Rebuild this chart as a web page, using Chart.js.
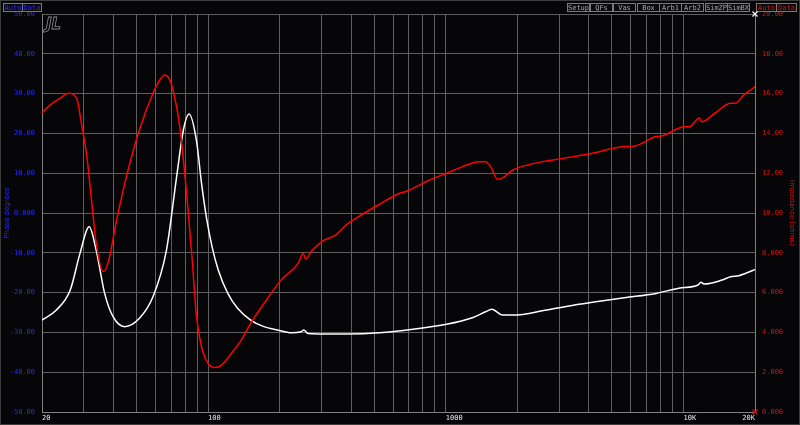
<!DOCTYPE html>
<html><head><meta charset="utf-8">
<script src="https://cdn.jsdelivr.net/npm/chart.js@4"></script>
<style>html,body{margin:0;padding:0;background:#060608;overflow:hidden}canvas{display:block}</style>
</head><body>
<canvas id="c" width="800" height="425"></canvas>
<script>
// ---- data ----
const phaseFreq = [20,21.6,23.8,25.8,28.0,29.3,30.9,32.3,33.8,36.2,37.9,41.2,45.3,51.4,58.6,62,65.6,68.5,71.2,76,81.9,85.5,89.4,93.8,99.9,106.6,113.7,125.2,138,151,172,203,239.6,251,257.7,271,304,345,381,420,526,636,679,855,1007,1171,1378,1471,1546,1650,1764,1916,2257,2661,3021,3633,4135,5641,6190,7669,8180,10090,10600,11660,11930,13530,15780,16550,17930,19840,20000];
const phaseDeg  = [25.2,27.1,28.8,30.1,28.8,22.5,14.1,3.3,-7.5,-14.7,-12.6,-1.8,9.1,20.9,30.1,33.0,34.7,33.8,30.9,21.7,2.4,-11.0,-26.1,-33.6,-37.8,-38.8,-38.2,-35.3,-31.9,-27.7,-22.7,-16.8,-12.6,-10.1,-11.6,-9.7,-7.0,-5.5,-3.0,-1.3,2.2,4.9,5.4,8.3,10.0,11.6,12.9,12.9,11.6,8.5,9.1,10.8,12.2,13.1,13.6,14.4,15.0,16.7,16.8,19.2,19.4,21.7,21.7,23.9,22.9,25.0,27.6,27.6,29.6,31.6,31.8];
const impFreq = [20,23,26.3,28.9,31.6,33.8,36.7,39.8,44.6,51.4,58.6,66.8,73.7,78.7,83.2,89.4,93.8,98.6,103.9,110.3,121,133,151,171.6,196,224,246,252.6,263,330,381,526,728,1007,1294,1471,1564,1730,1916,2661,3633,4135,5641,7669,9572,11510,11850,12200,14530,15780,17090,19840,20000];
const impOhm  = [4.62,5.13,6.13,7.97,9.31,8.14,5.96,4.79,4.29,4.71,5.79,8.14,11.82,14.17,14.97,13.6,11.5,9.7,8.3,7.14,5.96,5.21,4.62,4.29,4.12,3.98,4.03,4.12,3.95,3.92,3.92,3.98,4.16,4.41,4.74,5.04,5.16,4.87,4.87,5.13,5.41,5.51,5.74,5.96,6.22,6.38,6.52,6.43,6.63,6.8,6.85,7.14,7.16];
const xGridTicks = [20,30,40,50,60,70,80,90,100,200,300,400,500,600,700,800,900,1000,2000,3000,4000,5000,6000,7000,8000,9000,10000,20000];
const xLabelValues = [20,100,1000,10000,20000];
const xLabelTexts  = ['20','100','1000','10K','20K'];
const phaseMin = -50, phaseMax = 50, phaseStep = 10;
const impMin = 0, impMax = 20, impStep = 2;
const toolButtons = ['Setup','QFs','Vas','Box','Arb1','Arb2','SimZP','SimBX'];
const leftTitle = 'Phase degrees';
const rightTitle = 'Impedance (ohms)';

const BLUE = '#2a2aff', RED = '#e01010', GRID = '#5e5e5e';
const MONO = 'DejaVu Sans Mono';

const extras = {
  id: 'extras',
  afterDraw(chart) {
    const ctx = chart.ctx, a = chart.chartArea, xs = chart.scales.x;
    ctx.save();
    ctx.strokeStyle = '#3c3c3c'; ctx.lineWidth = 1;
    ctx.strokeRect(0.5, 0.5, 799, 424);
    ctx.font = '7px "' + MONO + '"';
    ctx.fillStyle = '#e8e8e8'; ctx.textBaseline = 'middle';
    xLabelValues.forEach((v, i) => {
      const px = xs.getPixelForValue(v);
      const last = i === xLabelValues.length - 1;
      ctx.textAlign = last ? 'right' : 'left';
      ctx.fillText(xLabelTexts[i], px, 418.5);
    });
    const btn = (x, w, text, color) => {
      ctx.fillStyle = '#0a0a0c'; ctx.fillRect(x, 3, w, 8);
      ctx.strokeStyle = '#7a7a7a'; ctx.strokeRect(x + 0.5, 3.5, w, 8);
      ctx.fillStyle = color; ctx.textAlign = 'center'; ctx.textBaseline = 'middle';
      ctx.fillText(text, x + w / 2 + 0.5, 8);
    };
    ctx.font = '7px "' + MONO + '"';
    btn(3, 19, 'Auto', BLUE); btn(22, 19, 'Data', BLUE);
    const bx = [567,590,613,637,659,681,705,727];
    toolButtons.forEach((t, i) => btn(bx[i], 22, t, '#a8a8a8'));
    btn(756, 20, 'Auto', RED); btn(776, 20, 'Data', RED);
    ctx.font = 'italic bold 15px "DejaVu Sans"';
    ctx.strokeStyle = '#8a8a8a'; ctx.lineWidth = 0.8;
    ctx.textAlign = 'left'; ctx.textBaseline = 'alphabetic';
    ctx.strokeText('JL', a.left + 4, a.top + 15);
    const mark = (x, y, c) => {
      ctx.strokeStyle = c; ctx.lineWidth = 1.2;
      ctx.beginPath(); ctx.moveTo(x - 2.5, y - 2.5); ctx.lineTo(x + 2.5, y + 2.5);
      ctx.moveTo(x + 2.5, y - 2.5); ctx.lineTo(x - 2.5, y + 2.5); ctx.stroke();
    };
    mark(a.right, a.top, '#ffffff');
    mark(a.right, a.bottom, RED);
    ctx.restore();
  }
};

const fmt = v => Number(v).toPrecision(4);

new Chart(document.getElementById('c'), {
  type: 'line',
  data: {
    datasets: [
      { label: 'Phase', data: phaseFreq.map((f, i) => ({ x: f, y: phaseDeg[i] })), yAxisID: 'yL',
        borderColor: '#ff0000', borderWidth: 1.5, pointRadius: 0, cubicInterpolationMode: 'monotone', order: 0 },
      { label: 'Impedance', data: impFreq.map((f, i) => ({ x: f, y: impOhm[i] })), yAxisID: 'yR',
        borderColor: '#ffffff', borderWidth: 1.5, pointRadius: 0, cubicInterpolationMode: 'monotone', order: 1 }
    ]
  },
  options: {
    responsive: false, animation: false, devicePixelRatio: 1,
    layout: { padding: { top: 14, left: 0, right: 0, bottom: 0 } },
    plugins: { legend: { display: false }, tooltip: { enabled: false } },
    scales: {
      x: {
        type: 'logarithmic', min: 20, max: 20000, position: 'bottom',
        afterBuildTicks: s => { s.ticks = xGridTicks.map(v => ({ value: v })); },
        afterFit: s => { s.height = 13; },
        ticks: { display: false },
        grid: { color: GRID, lineWidth: 1, drawTicks: false },
        border: { display: true, color: '#808080' }
      },
      yL: {
        type: 'linear', position: 'left', min: phaseMin, max: phaseMax,
        afterFit: s => { s.width = 42; },
        ticks: { stepSize: phaseStep, color: BLUE, padding: 7, font: { family: MONO, size: 7 }, callback: fmt },
        title: { display: true, text: leftTitle, color: BLUE, font: { family: 'DejaVu Sans', size: 7 }, padding: { top: 3, bottom: 0 } },
        grid: { color: GRID, lineWidth: 1, drawTicks: false },
        border: { display: true, color: '#808080' }
      },
      yR: {
        type: 'linear', position: 'right', min: impMin, max: impMax,
        afterFit: s => { s.width = 45; },
        ticks: { stepSize: impStep, color: RED, padding: 7, font: { family: MONO, size: 7 }, callback: fmt },
        title: { display: true, text: rightTitle, color: RED, font: { family: 'DejaVu Sans', size: 7 }, padding: { top: 4, bottom: 0 } },
        grid: { display: false, drawTicks: false },
        border: { display: true, color: '#808080' }
      }
    }
  },
  plugins: [extras]
});
</script>
</body></html>
